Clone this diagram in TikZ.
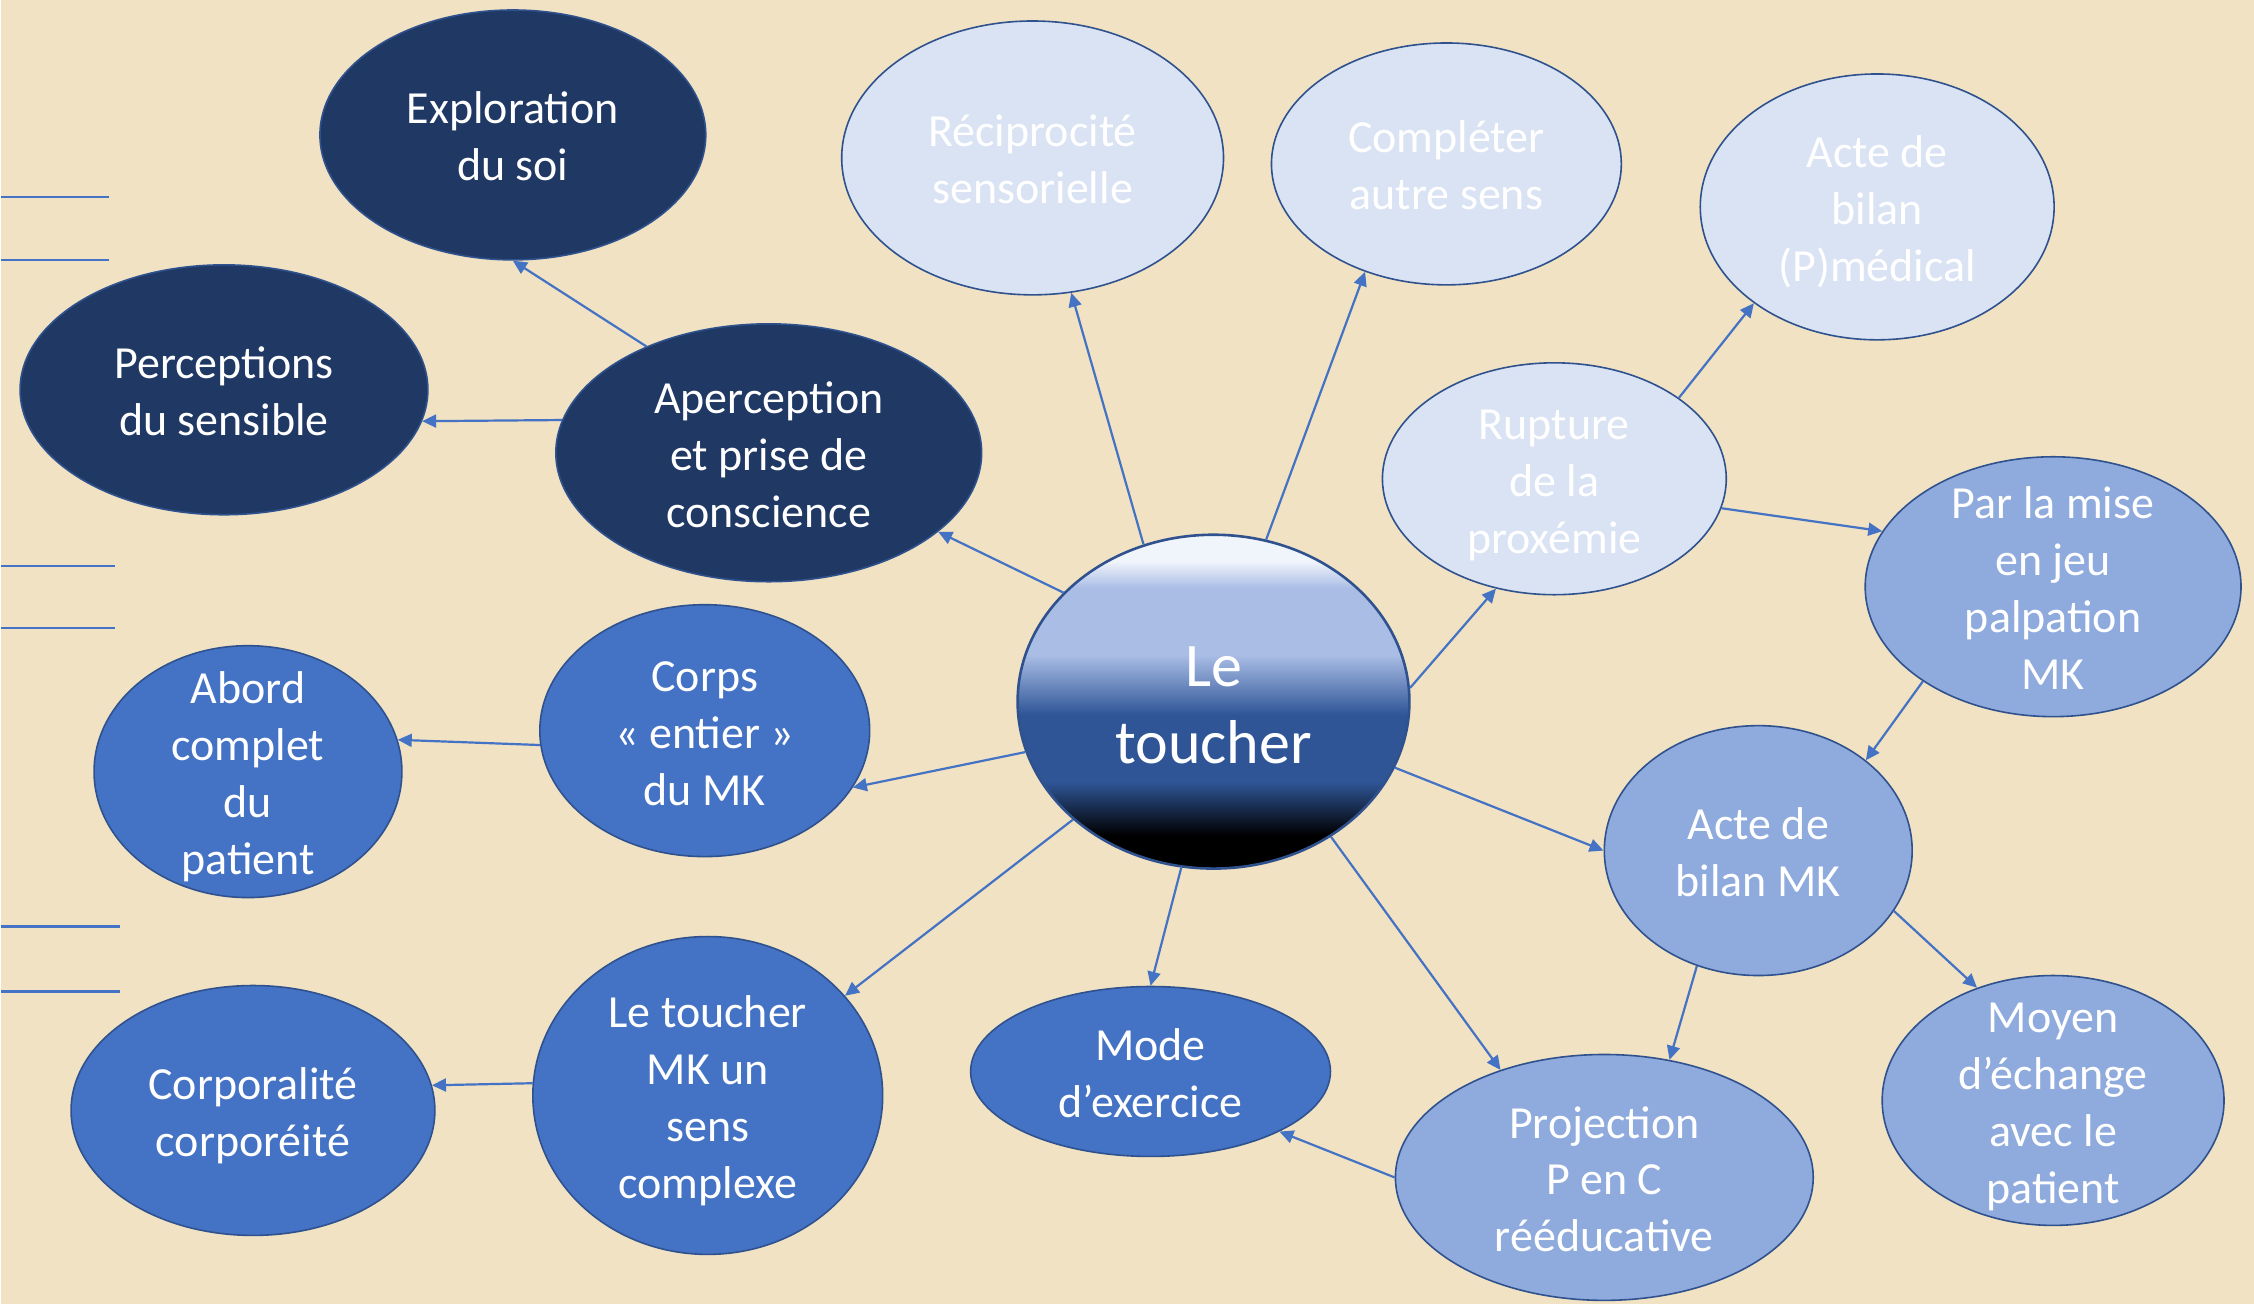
\documentclass[tikz,border=0pt]{standalone}
\usepackage{fontspec}
\setmainfont{Carlito}
\usetikzlibrary{shapes.geometric,arrows.meta}
\definecolor{parchment}{HTML}{F0E2C2}
\definecolor{navy}{HTML}{203864}
\definecolor{midblue}{HTML}{4472C4}
\definecolor{softblue}{HTML}{8FAADC}
\definecolor{paleblue}{HTML}{DAE3F3}
\definecolor{rim}{HTML}{2F528F}
\definecolor{link}{HTML}{4472C4}
\definecolor{toucherTop}{HTML}{F0F4FB}
\definecolor{toucherLight}{HTML}{A9BDE5}
\definecolor{toucherMid}{HTML}{2F5597}
\pgfdeclareverticalshading{toucherfill}{100bp}{color(0bp)=(black); color(30bp)=(black); color(38bp)=(toucherMid); color(48bp)=(toucherMid); color(57bp)=(toucherLight); color(67bp)=(toucherLight); color(71bp)=(toucherTop); color(100bp)=(toucherTop)}
\newcommand{\bubbletext}[2][9.3pt]{\smash{\raisebox{-#1}{\begin{tabular}{@{}c@{}}#2\end{tabular}}}}
\begin{document}
\begin{tikzpicture}[x=0.5pt, y=-0.5pt,
		bubble/.style={ellipse, draw=rim, line width=0.8pt, inner sep=0pt, text=white, font=\fontsize{23}{28.5}\selectfont},
		ell/.style 2 args={minimum width=#1pt, minimum height=#2pt},
		dark/.style={bubble, fill=navy},
		mid/.style={bubble, fill=midblue},
		soft/.style={bubble, fill=softblue},
		pale/.style={bubble, fill=paleblue},
		arr/.style={draw=link, line width=1.1pt, -{Triangle[length=7pt, width=6.5pt]}},
		stub/.style={draw=link, line width=1.1pt}]
	\fill[parchment] (0,0) rectangle (2254,1305);
	% stubs on the left edge
	\foreach \y/\x in {197/108, 260/108, 566/114, 628/114, 927/119, 992/119}
		\draw[stub] (0,\y) -- (\x,\y);
	% centre
	\node[bubble, ell={196}{167}, shading=toucherfill, line width=1.3pt, font=\fontsize{31}{38.5}\selectfont] (toucher) at (1213,702) {\bubbletext[10.3pt]{Le\\toucher}};
	% dark group
	\node[dark, ell={193}{125}] (explo) at (512,135) {\bubbletext{Exploration\\du soi}};
	\node[dark, ell={204}{125}] (perc) at (223,390) {\bubbletext{Perceptions\\du sensible}};
	\node[dark, ell={213}{129}] (aperc) at (768,453) {\bubbletext{Aperception\\et prise de\\conscience}};
	% pale group
	\node[pale, ell={191}{137}] (recip) at (1032,158) {\bubbletext{Réciprocité\\sensorielle}};
	\node[pale, ell={175}{121}] (compl) at (1446,164) {\bubbletext{Compléter\\autre sens}};
	\node[pale, ell={177}{133}] (bilanP) at (1877,207) {\bubbletext{Acte de\\bilan\\(P)médical}};
	\node[pale, ell={172}{116}] (rupt) at (1554,479) {\bubbletext{Rupture\\de la\\proxémie}};
	% soft group
	\node[soft, ell={188}{130}] (parla) at (2053,587) {\bubbletext{Par la mise\\en jeu\\palpation\\MK}};
	\node[soft, ell={154}{125}] (bilanMK) at (1758,851) {\bubbletext{Acte de\\bilan MK}};
	\node[soft, ell={171}{125}] (moyen) at (2053,1101) {\bubbletext{Moyen\\d’échange\\avec le\\patient}};
	\node[soft, ell={209}{123}] (proj) at (1604,1178) {\bubbletext{Projection\\P en C\\rééducative}};
	% mid group
	\node[mid, ell={180}{85}] (mode) at (1150,1072) {\bubbletext{Mode\\d’exercice}};
	\node[mid, ell={165}{126}] (corps) at (704,731) {\bubbletext{Corps\\« entier »\\du MK}};
	\node[mid, ell={154}{126}] (abord) at (247,772) {\bubbletext{Abord\\complet\\du\\patient}};
	\node[mid, ell={175}{159}] (sensMK) at (707,1096) {\bubbletext{Le toucher\\MK un\\sens\\complexe}};
	\node[mid, ell={182}{125}] (corpo) at (252,1111) {\bubbletext{Corporalité\\corporéité}};
	% arrows
	\draw[arr] (aperc.139) -- (explo.south);
	\draw[arr] (aperc.171) -- (perc.-9);
	\draw[arr] (toucher.144) -- (aperc.-25);
	\draw[arr] (toucher.114) -- (recip.-74);
	\draw[arr] (toucher.72) -- (compl.-127);
	\draw[arr] (rupt.33) -- (bilanP.-142);
	\draw[arr] (toucher.4) -- (rupt.-118);
	\draw[arr] (rupt.-10) -- (parla.162);
	\draw[arr] (parla.-144) -- (bilanMK.40);
	\draw[arr] (toucher.-20) -- (bilanMK.west);
	\draw[arr] (bilanMK.-24) -- (moyen.124);
	\draw[arr] (bilanMK.-118) -- (proj.61);
	\draw[arr] (toucher.-49) -- (proj.134);
	\draw[arr] (proj.west) -- (mode.-25);
	\draw[arr] (toucher.-101) -- (mode.north);
	\draw[arr] (toucher.-140) -- (sensMK.36);
	\draw[arr] (sensMK.176) -- (corpo.8);
	\draw[arr] (toucher.-165) -- (corps.-21);
	\draw[arr] (corps.-175) -- (abord.12);
\end{tikzpicture}
\end{document}
